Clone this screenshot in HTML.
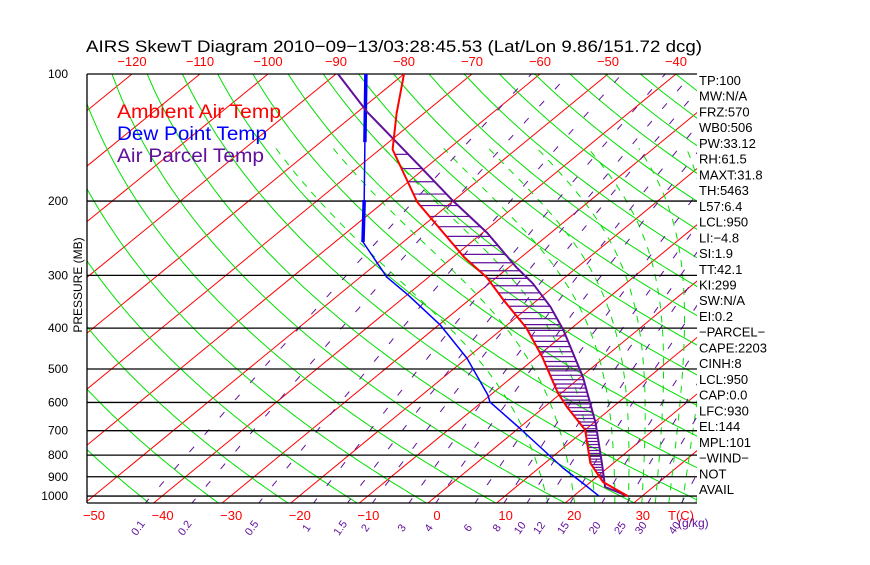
<!DOCTYPE html>
<html><head><meta charset="utf-8"><style>
html,body{margin:0;padding:0;background:#fff;}
svg text{font-family:"Liberation Sans",sans-serif;}
</style></head><body>
<svg id="chart" width="870" height="560" viewBox="0 0 870 560" xmlns="http://www.w3.org/2000/svg">
<rect x="0" y="0" width="870" height="560" fill="#fff"/>
<defs><clipPath id="plotclip"><rect x="87" y="74" width="610" height="429"/></clipPath></defs>
<text x="86" y="52" font-size="17" textLength="616" lengthAdjust="spacingAndGlyphs" fill="#000">AIRS SkewT Diagram 2010−09−13/03:28:45.53 (Lat/Lon 9.86/151.72 dcg)</text>
<g id="grid" clip-path="url(#plotclip)"></g>
<g id="plines"></g>
<g id="profiles" clip-path="url(#plotclip)"></g>
<g id="labels"></g>
<text x="117" y="118" font-size="19" fill="#ff0000" textLength="164" lengthAdjust="spacingAndGlyphs">Ambient Air Temp</text>
<text x="117" y="140" font-size="19" fill="#0000ff" textLength="150" lengthAdjust="spacingAndGlyphs">Dew Point Temp</text>
<text x="117" y="162" font-size="19" fill="#60109a" textLength="147" lengthAdjust="spacingAndGlyphs">Air Parcel Temp</text>
<text transform="translate(82,285) rotate(-90)" text-anchor="middle" font-size="12" fill="#000">PRESSURE (MB)</text>
<text x="668" y="520" font-size="13" fill="#ff0000">T(C)</text>
<text x="678" y="527" font-size="12" fill="#60109a">(g/kg)</text>
</svg>
<script>
// ---- data ----
const tempP = [100,124,151,201,271,303,343,400,468,570,615,697,835,867,926,1000];
const tempT = [-80.0,-74.0,-68.1,-55.1,-38.5,-31.5,-25.0,-16.6,-9.2,-0.5,3.3,10.0,16.6,18.5,21.8,27.9];
const parcelP = [100,123,166,199,238,287,313,356,404,522,671,835,952,1000];
const parcelT = [-89.7,-78.6,-60.9,-50.3,-39.3,-28.9,-23.7,-16.9,-10.9,0.3,10.3,18.3,23.0,27.9];
const dewP = [100,145,199,250,303,334,393,471,576,599,690,858,931,1000];
const dewT = [-85.6,-73.5,-63.2,-55.9,-46.1,-39.8,-29.8,-20.0,-10.4,-8.8,0.1,13.5,19.0,23.7];
const pressureTicks = [100,200,300,400,500,600,700,800,900,1000];
const bottomTempTicks = [-50,-40,-30,-20,-10,0,10,20,30];
const topTempTicks = [-120,-110,-100,-90,-80,-70,-60,-50,-40];
const mixRatios = [0.1,0.2,0.5,1,1.5,2,3,4,6,8,10,12,15,20,25,30,40];
const mixLabels = ["0.1","0.2","0.5","1","1.5","2","3","4","6","8","10","12","15","20","25","30","40"];
const indices = ["TP:100","MW:N/A","FRZ:570","WB0:506","PW:33.12","RH:61.5","MAXT:31.8","TH:5463","L57:6.4","LCL:950","LI:−4.8","SI:1.9","TT:42.1","KI:299","SW:N/A","EI:0.2","−PARCEL−","CAPE:2203","CINH:8","LCL:950","CAP:0.0","LFC:930","EL:144","MPL:101","−WIND−","NOT","AVAIL"];

// ---- axes ----
function Y(p){return 74+183.3*Math.log(p/100);}
function xb(T){return 428+6.86*T;}
function xt(T){return 948+6.8*T;}
function X(T,p){const f=(503-Y(p))/429;return xb(T)+f*(xt(T)-xb(T));}
const NS='http://www.w3.org/2000/svg';
function mk(tag,attrs,parent){const e=document.createElementNS(NS,tag);for(const k in attrs)e.setAttribute(k,attrs[k]);parent.appendChild(e);return e;}
const grid=document.getElementById('grid'),plines=document.getElementById('plines'),prof=document.getElementById('profiles'),labels=document.getElementById('labels');
function pts(arr){return arr.map(a=>a[0].toFixed(1)+','+a[1].toFixed(1)).join(' ');}

// isotherms
for(let T=-140;T<=60;T+=10){
  const l=mk('line',{x1:xb(T),y1:503,x2:xt(T),y2:74,stroke:'#ff0000','stroke-width':1},grid);
  
  
}
// dry adiabats
for(let th=180;th<=520;th+=10){
  const a=[];for(let p=1045;p>=98;p-=5){const T=th*Math.pow(p/1000,0.2857)-273.15;a.push([X(T,p),Y(p)]);}
  const l=mk('polyline',{points:pts(a),fill:'none',stroke:'#00e000','stroke-width':1},grid);
  
  
}
// moist adiabats
function rs(T,p){const es=6.112*Math.exp(17.67*(T-273.15)/(T-273.15+243.5));return 0.622*es/(p-es);}
function dTdp(T,p){const r=rs(T,p);return (287*T+2.5e6*r)/(p*(1005+2.5e6*2.5e6*r*0.622/(287*T*T)));}
[16,20,23,26,28,30,32,34,36,38,40].forEach(T0=>{
  const a=[];let T=T0+273.15;
  let Td=T;for(let p=1000;p<1045;p+=5){Td+=dTdp(Td,p)*5;}
  T=Td;for(let p=1045;p>=150;p-=5){a.push([X(T-273.15,p),Y(p)]);T-=dTdp(T,p)*5;}
  const l=mk('polyline',{points:pts(a),fill:'none',stroke:'#00e000','stroke-width':1,'stroke-dasharray':'7 7'},grid);
  
  
});
// mixing ratio lines
function tdw(w,p){const e=w*p/(622+w);const L=Math.log(e/6.112);return 243.5*L/(17.67-L);}
mixRatios.forEach(w=>{
  const a=[];for(let p=1045;p>=98;p-=5)a.push([X(tdw(w,p),p),Y(p)]);
  const l=mk('polyline',{points:pts(a),fill:'none',stroke:'#60109a','stroke-width':1,'stroke-dasharray':'7 16'},grid);
  
  
});
// pressure lines & frame
pressureTicks.forEach(p=>{
  const l=mk('line',{x1:87,y1:Y(p),x2:697,y2:Y(p),stroke:'#000','stroke-width':1.3},plines);
  
  
  const t=mk('text',{x:68,y:Y(p)+4,'text-anchor':'end','font-size':12,fill:'#000'},labels);
  t.textContent=p;
  
  
});
let fr=mk('line',{x1:87,y1:503,x2:697,y2:503,stroke:'#000','stroke-width':1.3},plines);


fr=mk('line',{x1:87,y1:74,x2:87,y2:503,stroke:'#000','stroke-width':1.3},plines);



// interpolation (log p)
function interp(P,T,p){for(let i=0;i<P.length-1;i++){if(p>=P[i]&&p<=P[i+1]){const f=(Math.log(p)-Math.log(P[i]))/(Math.log(P[i+1])-Math.log(P[i]));return T[i]+f*(T[i+1]-T[i]);}}return null;}
// hatching
for(let p=155;p<=995;p+=12.5){
  const a=interp(tempP,tempT,p),b=interp(parcelP,parcelT,p);
  if(a!==null&&b!==null&&b>a){
    const l=mk('line',{x1:X(a,p),y1:Y(p),x2:X(b,p),y2:Y(p),stroke:'#60109a','stroke-width':1.2},prof);
    
    
  }
}
// profiles
function line(P,T,color,w,name,i0,i1){
  const a=[];for(let i=(i0||0);i<=(i1===undefined?P.length-1:i1);i++)a.push([X(T[i],P[i]),Y(P[i])]);
  const l=mk('polyline',{points:pts(a),fill:'none',stroke:color,'stroke-width':w,'stroke-linejoin':'round'},prof);
  
  
}
line(dewP,dewT,'#0000ff',1.5,'dewpoint-line');
line(dewP,dewT,'#0000ff',3.5,'dewpoint-thick-upper',0,1);
line(dewP,dewT,'#0000ff',3.5,'dewpoint-thick-lower',2,3);
line(parcelP,parcelT,'#60109a',2,'parcel-line');
line(tempP,tempT,'#ff0000',2,'temperature-line');

// tick labels
bottomTempTicks.forEach(T=>{
  const t=mk('text',{x:xb(T)+9,y:520,'text-anchor':'middle','font-size':13,fill:'#ff0000'},labels);
  t.textContent=T<0?'−'+(-T):T;
  
  
});
topTempTicks.forEach(T=>{
  const t=mk('text',{x:xt(T),y:66,'text-anchor':'middle','font-size':13,fill:'#ff0000'},labels);
  t.textContent='−'+(-T);
  
  
});
mixRatios.forEach((w,i)=>{
  const x=X(tdw(w,1040),1040)-4;
  const t=mk('text',{transform:'translate('+x.toFixed(1)+',530) rotate(-55)','text-anchor':'middle','font-size':11,fill:'#60109a'},labels);
  t.textContent=mixLabels[i];
  
  
});
indices.forEach((s,i)=>{
  const t=mk('text',{x:699,y:85+i*15.73,'font-size':13,fill:'#000'},labels);
  t.textContent=s;
  
  
});
</script>
</body></html>
